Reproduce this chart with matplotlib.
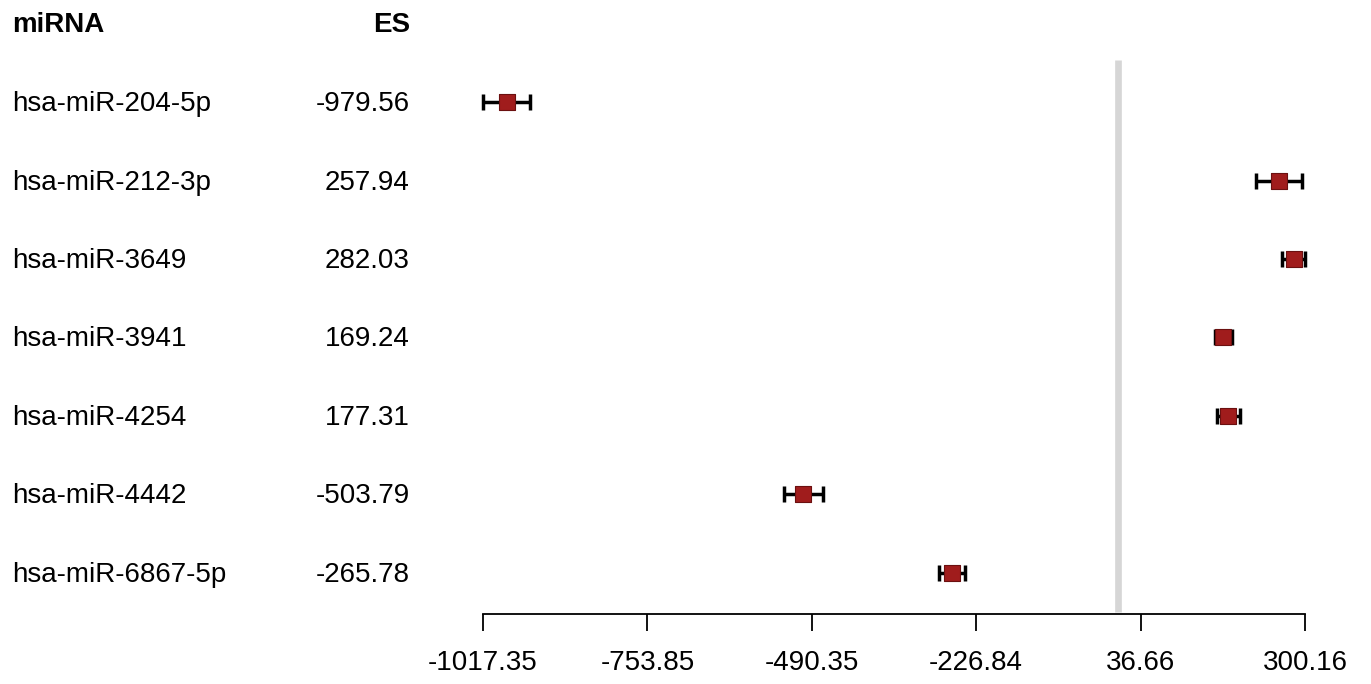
import matplotlib
matplotlib.use("Agg")
import matplotlib.pyplot as plt
import matplotlib.transforms as mtransforms

plt.rcParams['font.family'] = ['Liberation Sans', 'DejaVu Sans']

mirnas = ["hsa-miR-204-5p", "hsa-miR-212-3p", "hsa-miR-3649", "hsa-miR-3941",
          "hsa-miR-4254", "hsa-miR-4442", "hsa-miR-6867-5p"]
es = [-979.56, 257.94, 282.03, 169.24, 177.31, -503.79, -265.78]
ci_low = [-1017.35, 221.0, 263.9, 155.5, 158.6, -534.6, -286.8]
ci_high = [-941.77, 294.9, 300.16, 183.0, 196.0, -472.9, -244.8]
tick_values = [-1017.35, -753.85, -490.35, -226.84, 36.66, 300.16]
tick_labels = ["-1017.35", "-753.85", "-490.35", "-226.84", "36.66", "300.16"]

W, H = 1371, 684
fig = plt.figure(figsize=(W / 100, H / 100), dpi=100)

ax_left, ax_right = 483 / W, 1305 / W
ax_bottom, ax_top = 1 - 614 / H, 1 - 40 / H
ax = fig.add_axes([ax_left, ax_bottom, ax_right - ax_left, ax_top - ax_bottom])

row_px0, row_step = 102, 78.5
def px_to_row(py):
    return (py - row_px0) / row_step

rows = list(range(len(mirnas)))
ax.set_xlim(tick_values[0], tick_values[-1])
ax.set_ylim(px_to_row(614), px_to_row(40))

# zero reference line
ax.vlines(0, px_to_row(612), px_to_row(60), color="#d6d6d6", lw=4.8, zorder=1)

# confidence intervals and point estimates
xerr = [[e - lo for e, lo in zip(es, ci_low)], [hi - e for e, hi in zip(es, ci_high)]]
ax.errorbar(es, rows, xerr=xerr, fmt="none", ecolor="black", elinewidth=2.5,
            capsize=5.5, capthick=2.5, zorder=2, clip_on=False)
ax.scatter(es, rows, marker="s", s=125, color="#a01c1c", edgecolors="#6b1010",
           linewidths=0.8, zorder=3, clip_on=False)

for side in ("left", "right", "top"):
    ax.spines[side].set_visible(False)
ax.spines["bottom"].set_linewidth(1.3)
ax.set_yticks([])
ax.set_xticks(tick_values)
ax.set_xticklabels(tick_labels, fontsize=20)
ax.tick_params(axis="x", length=12, width=1.3, pad=14, color="black")

# table columns on the left
trans = mtransforms.blended_transform_factory(fig.transFigure, ax.transData)
name_x, es_x = 12 / W, 410 / W
ax.text(name_x, px_to_row(25), "miRNA", transform=trans, fontsize=20,
        fontweight="bold", ha="left", va="center")
ax.text(es_x, px_to_row(25), "ES", transform=trans, fontsize=20,
        fontweight="bold", ha="right", va="center")
for r, name, val in zip(rows, mirnas, es):
    y = r + px_to_row(104) - px_to_row(102)
    ax.text(name_x, y, name, transform=trans, fontsize=20, ha="left", va="center")
    ax.text(es_x, y, f"{val:.2f}", transform=trans, fontsize=20, ha="right", va="center")

fig.savefig("out.png", dpi=100)
